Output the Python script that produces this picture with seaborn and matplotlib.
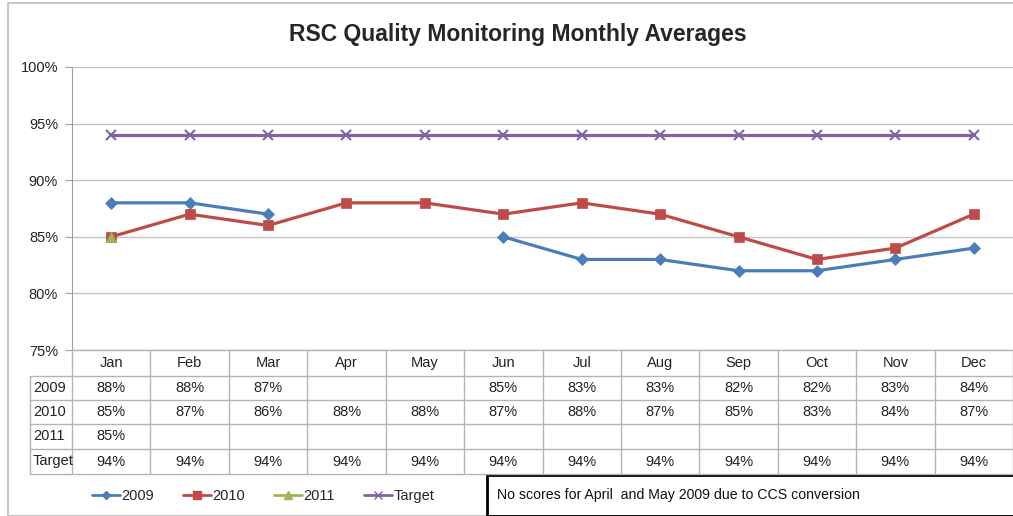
import numpy as np
import pandas as pd
import seaborn as sns
import matplotlib.pyplot as plt
from matplotlib.lines import Line2D
from matplotlib.patches import Rectangle
from matplotlib.ticker import PercentFormatter

months = ['Jan', 'Feb', 'Mar', 'Apr', 'May', 'Jun', 'Jul', 'Aug', 'Sep', 'Oct', 'Nov', 'Dec']
series_names = ['2009', '2010', '2011', 'Target']
v2009 = [88, 88, 87, np.nan, np.nan, 85, 83, 83, 82, 82, 83, 84]
v2010 = [85, 87, 86, 88, 88, 87, 88, 87, 85, 83, 84, 87]
v2011 = [85, np.nan, np.nan, np.nan, np.nan, np.nan, np.nan, np.nan, np.nan, np.nan, np.nan, np.nan]
target = [94] * 12
note = 'No scores for April  and May 2009 due to CCS conversion'

colors = {'2009': '#4a7ebb', '2010': '#be4b48', '2011': '#98b954', 'Target': '#8064a2'}
markers = {'2009': 'D', '2010': 's', '2011': '^', 'Target': 'x'}
msizes = {'2009': 6, '2010': 7.5, '2011': 7, 'Target': 7}

# long table, gaps split into separate segments so lines break
rows = []
for name, vals in zip(series_names, [v2009, v2010, v2011, target]):
    seg = 0
    prev_nan = True
    for i, v in enumerate(vals):
        if np.isnan(v):
            prev_nan = True
            continue
        if prev_nan:
            seg += 1
            prev_nan = False
        rows.append({'series': name, 'pos': i, 'value': v, 'seg': f'{name}-{seg}'})
df = pd.DataFrame(rows)

sns.set_style('white')
plt.rcParams['font.family'] = ['Liberation Sans', 'DejaVu Sans']

W, H = 1013, 516
fig = plt.figure(figsize=(W / 100, H / 100), dpi=100)
fig.patches.append(Rectangle((8 / W, 0), 1.0, 1 - 3 / H, transform=fig.transFigure,
                             fill=False, edgecolor='#c8c8c8', lw=1.5))

x0, x1 = 72, 1013
y_top, y_bot = 67, 350
ax = fig.add_axes([x0 / W, 1 - y_bot / H, (x1 - x0) / W, (y_bot - y_top) / H])

for name in series_names:
    sub = df[df['series'] == name]
    sns.lineplot(data=sub, x='pos', y='value', units='seg', estimator=None,
                 color=colors[name], marker=markers[name], markersize=msizes[name],
                 markeredgecolor=colors[name], markeredgewidth=1.5 if name == 'Target' else 0.5,
                 lw=2.3, ax=ax, legend=False)

ax.set_xlim(-0.5, 11.5)
ax.set_ylim(75, 100)
ax.set_yticks([75, 80, 85, 90, 95, 100])
ax.yaxis.set_major_formatter(PercentFormatter(decimals=0))
ax.set_xticks([])
ax.set_xlabel('')
ax.set_ylabel('')
ax.grid(axis='y', color='#c4c4c4', lw=1)
for s in ['top', 'right', 'bottom']:
    ax.spines[s].set_visible(False)
ax.spines['left'].set_color('#a0a0a0')
ax.tick_params(axis='y', left=True, length=5, color='#a0a0a0', labelsize=10.5, pad=5,
               labelcolor='#222222')

fig.text(518 / W, 1 - 35 / H, 'RSC Quality Monitoring Monthly Averages',
         ha='center', va='center', fontsize=16.5, fontweight='bold')

# data table under the plot
row_edges = [350, 376, 400, 424, 449, 474]
col_w = (x1 - x0) / 12
lc = '#b4b4b4'
def fx(px):
    return px / W
def fy(py):
    return 1 - py / H

for k, py in enumerate(row_edges):
    left = x0 if k == 0 else 30
    fig.add_artist(Line2D([fx(left), fx(x1)], [fy(py), fy(py)], color=lc, lw=1))
for c in range(13):
    px = x0 + c * col_w
    fig.add_artist(Line2D([fx(px), fx(px)], [fy(row_edges[0]), fy(row_edges[-1])], color=lc, lw=1))
fig.add_artist(Line2D([fx(30), fx(30)], [fy(row_edges[1]), fy(row_edges[-1])], color=lc, lw=1))

for c, m in enumerate(months):
    fig.text(fx(x0 + (c + 0.5) * col_w), fy((row_edges[0] + row_edges[1]) / 2), m,
             ha='center', va='center', fontsize=10.5, color='#222222')
for r, (name, vals) in enumerate(zip(series_names, [v2009, v2010, v2011, target])):
    yc = fy((row_edges[r + 1] + row_edges[r + 2]) / 2)
    fig.text(fx(33), yc, name, ha='left', va='center', fontsize=10.5, color='#222222')
    for c, v in enumerate(vals):
        if not np.isnan(v):
            fig.text(fx(x0 + (c + 0.5) * col_w), yc, f'{v:.0f}%',
                     ha='center', va='center', fontsize=10.5, color='#222222')

# legend
handles = [Line2D([], [], color=colors[n], marker=markers[n], markersize=msizes[n] * 0.75,
                  markeredgecolor=colors[n], lw=2) for n in series_names]
fig.legend(handles, series_names, loc='center', bbox_to_anchor=(fx(263), fy(496)),
           ncol=4, frameon=False, fontsize=10.5, handlelength=1.9, handletextpad=0.1,
           columnspacing=2.0)

# note box
fig.patches.append(Rectangle((fx(487), 0), 1.0, fy(475), transform=fig.transFigure,
                             fill=False, edgecolor='black', lw=2))
fig.text(fx(497), fy(495), note, ha='left', va='center', fontsize=10.2, color='#111111')

fig.savefig('out.png', dpi=100)
